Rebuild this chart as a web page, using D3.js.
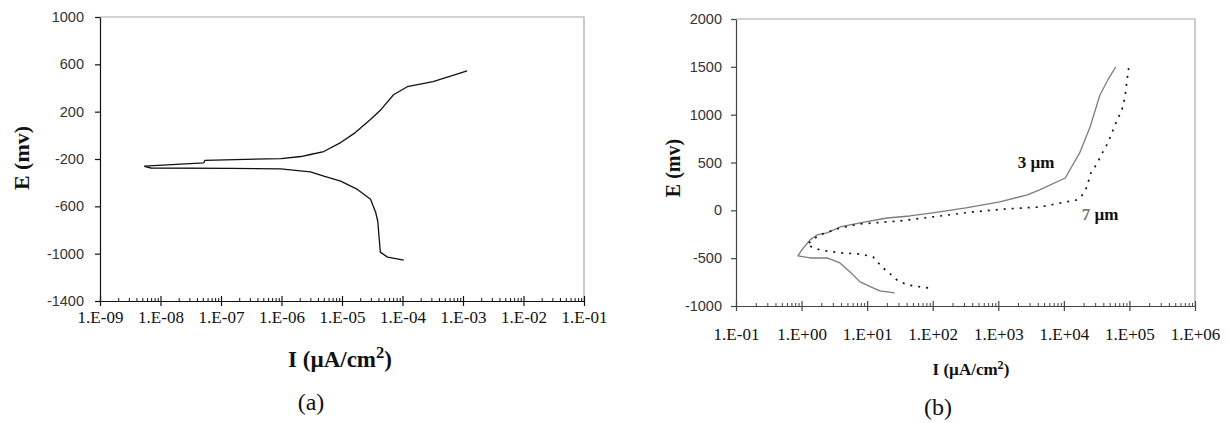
<!DOCTYPE html>
<html>
<head>
<meta charset="utf-8">
<script src="https://cdn.jsdelivr.net/npm/d3@7"></script>
<style>
  body { margin: 0; background: #fff; }
  svg { display: block; }
</style>
</head>
<body>
<svg id="fig"></svg>
<script>
// ---------------------------------------------------------------
// data (I in uA/cm2, E in mV)
// ---------------------------------------------------------------

// panel (a)
var aXTicks = [1e-9, 1e-8, 1e-7, 1e-6, 1e-5, 1e-4, 1e-3, 1e-2, 1e-1];
var aXLabels = ["1.E-09", "1.E-08", "1.E-07", "1.E-06", "1.E-05", "1.E-04", "1.E-03", "1.E-02", "1.E-01"];
var aYTicks = [-1400, -1000, -600, -200, 200, 600, 1000];

var aAnodicI = [5.4e-9, 5.2e-8, 5.4e-8, 9.8e-7, 2.1e-6, 3.0e-6, 5.0e-6, 9.5e-6, 1.66e-5, 2.95e-5, 4.4e-5, 7.1e-5, 1.2e-4, 3.2e-4, 1.17e-3];
var aAnodicE = [-260, -232, -212, -196, -179, -162, -137, -61, 23, 133, 217, 343, 411, 453, 545];

var aCathodicI = [5.4e-9, 6.95e-9, 1.45e-7, 9.7e-7, 3.0e-6, 5.0e-6, 9.5e-6, 1.8e-5, 2.96e-5, 3.6e-5, 3.9e-5, 4.3e-5, 5.65e-5, 1.05e-4];
var aCathodicE = [-263, -276, -280, -283, -308, -345, -387, -457, -541, -650, -726, -987, -1029, -1054];

// panel (b)
var bXTicks = [1e-1, 1e0, 1e1, 1e2, 1e3, 1e4, 1e5, 1e6];
var bXLabels = ["1.E-01", "1.E+00", "1.E+01", "1.E+02", "1.E+03", "1.E+04", "1.E+05", "1.E+06"];
var bYTicks = [-1000, -500, 0, 500, 1000, 1500, 2000];

// 3 um coating (solid grey)
var b3I = [26.3, 15.7, 12.3, 7.8, 5.5, 3.85, 2.45, 1.35, 0.88, 1.01, 1.35, 1.72, 2.45, 3.85, 7.8, 20, 44.7, 100, 321, 1050, 2770, 4270, 10500, 17400, 25100, 35500, 46800, 61700];
var b3E = [-863, -842, -811, -748, -644, -550, -498, -498, -477, -414, -309, -257, -236, -174, -132, -80, -59, -27, 25, 88, 161, 213, 338, 600, 871, 1206, 1363, 1498];

// 7 um coating (dotted black)
var b7I = [85, 40.6, 28.4, 20, 17.4, 12.3, 7.8, 3.85, 1.9, 1.21, 1.45, 1.9, 3.85, 7.8, 31.6, 100, 400, 1350, 4300, 15800, 17500, 20200, 22400, 25800, 29700, 35400, 40700, 46900, 54000, 62100, 76600, 85100, 91200, 97900];
var b7E = [-811, -780, -727, -633, -602, -487, -456, -445, -414, -362, -309, -257, -184, -142, -111, -69, -17, 15, 35, 109, 129, 182, 244, 391, 453, 547, 631, 704, 809, 913, 1049, 1174, 1342, 1498];

// ---------------------------------------------------------------
// drawing
// ---------------------------------------------------------------
var svg = d3.select("#fig").attr("width", 1229).attr("height", 423);
svg.append("rect").attr("width", 1229).attr("height", 423).attr("fill", "#fff");

var serif = "'Liberation Serif', 'Times New Roman', serif";
var sans = "'Liberation Sans', Arial, sans-serif";

// minor log ticks 2..9 inside each decade
function minorTicks(majors) {
  var out = [];
  for (var i = 0; i < majors.length - 1; i++)
    for (var m = 2; m <= 9; m++) out.push(majors[i] * m);
  return out;
}

function panel(p) {
  var x = d3.scaleLog().domain(p.xDomain).range([p.left, p.right]);
  var y = d3.scaleLinear().domain(p.yDomain).range([p.bottom, p.top]);
  var g = svg.append("g");

  // plot-area frame (top + right), light grey
  g.append("path")
    .attr("d", "M" + p.left + "," + p.top + "H" + p.right + "V" + p.bottom)
    .attr("fill", "none").attr("stroke", "#a8a8a8").attr("stroke-width", 1.2);

  // y axis
  var ya = g.append("g").attr("transform", "translate(" + p.left + ",0)")
    .call(d3.axisLeft(y).tickValues(p.yTicks).tickSize(5).tickSizeOuter(0)
      .tickPadding(p.yPad).tickFormat(function(d){ return d; }));
  ya.selectAll("path,line").attr("stroke", p.axisColor).attr("stroke-width", 1.2);
  ya.selectAll("text").attr("font-family", sans).attr("font-size", 14.5).attr("fill", "#333");

  // x axis: major ticks down, major + minor ticks up, labels
  var xg = g.append("g").attr("transform", "translate(0," + p.bottom + ")");
  var xa = xg.append("g").call(d3.axisBottom(x).tickValues(p.xTicks).tickSize(5)
    .tickSizeOuter(0).tickFormat(""));
  xa.selectAll("path,line").attr("stroke", p.axisColor).attr("stroke-width", 1.2);
  var xu = xg.append("g").call(d3.axisTop(x).tickValues(p.xTicks).tickSize(5)
    .tickSizeOuter(0).tickFormat(""));
  xu.selectAll("line").attr("stroke", p.axisColor).attr("stroke-width", 1.2);
  xu.select("path").remove();
  var xm = xg.append("g").call(d3.axisTop(x).tickValues(minorTicks(p.xTicks)).tickSize(3)
    .tickSizeOuter(0).tickFormat(""));
  xm.selectAll("line").attr("stroke", p.axisColor).attr("stroke-width", 1);
  xm.select("path").remove();
  var xl = xg.append("g").call(d3.axisBottom(x).tickValues(p.xTicks).tickSize(0)
    .tickPadding(p.xPad).tickFormat(function(d, i){ return p.xLabels[i]; }));
  xl.select("path").remove();
  xl.selectAll("text").attr("font-family", serif).attr("font-size", 17).attr("fill", "#111");

  // curves
  var line = d3.line().x(function(d){ return x(d[0]); }).y(function(d){ return y(d[1]); });
  p.series.forEach(function(s) {
    g.append("path").datum(d3.zip(s.I, s.E))
      .attr("d", line).attr("fill", "none")
      .attr("stroke", s.color).attr("stroke-width", s.width)
      .attr("stroke-dasharray", s.dash || null)
      .attr("stroke-linejoin", "round");
  });

  // axis titles
  var xt = g.append("text").attr("x", p.xTitle[0]).attr("y", p.xTitle[1])
    .attr("text-anchor", "middle").attr("font-family", serif)
    .attr("font-weight", "bold").attr("font-size", p.xTitleSize).attr("fill", "#111");
  xt.append("tspan").text("I (\u00b5A/cm");
  xt.append("tspan").text("2").attr("font-size", p.xTitleSize * 0.72).attr("dy", -p.xTitleSize * 0.38);
  xt.append("tspan").text(")").attr("dy", p.xTitleSize * 0.38);

  g.append("text").attr("transform", "translate(" + p.yTitle[0] + "," + p.yTitle[1] + ") rotate(-90)")
    .attr("text-anchor", "middle").attr("font-family", serif)
    .attr("font-weight", "bold").attr("font-size", p.yTitleSize).attr("fill", "#111")
    .text("E (mv)");

  // panel letter
  g.append("text").attr("x", p.letter[0]).attr("y", p.letter[1])
    .attr("text-anchor", "middle").attr("font-family", serif)
    .attr("font-size", 24).attr("fill", "#111").text(p.letterText);

  return { x: x, y: y, g: g };
}

panel({
  left: 100, right: 584, top: 17, bottom: 301,
  xDomain: [1e-9, 1e-1], yDomain: [-1400, 1000],
  xTicks: aXTicks, xLabels: aXLabels, yTicks: aYTicks,
  yPad: 11, xPad: 10, axisColor: "#111",
  series: [
    { I: aAnodicI, E: aAnodicE, color: "#111", width: 1.3 },
    { I: aCathodicI, E: aCathodicE, color: "#111", width: 1.3 }
  ],
  xTitle: [340, 367], xTitleSize: 23,
  yTitle: [29, 158], yTitleSize: 22,
  letter: [311, 410], letterText: "(a)"
});

var pb = panel({
  left: 736, right: 1195, top: 19, bottom: 306,
  xDomain: [1e-1, 1e6], yDomain: [-1000, 2000],
  xTicks: bXTicks, xLabels: bXLabels, yTicks: bYTicks,
  yPad: 9, xPad: 22, axisColor: "#444",
  series: [
    { I: b3I, E: b3E, color: "#7c7c7c", width: 1.3 },
    { I: b7I, E: b7E, color: "#111", width: 1.7, dash: "2,6" }
  ],
  xTitle: [971, 375], xTitleSize: 17,
  yTitle: [680, 168], yTitleSize: 20,
  letter: [938, 415], letterText: "(b)"
});

// curve labels in panel (b)
pb.g.append("text").attr("x", 1036).attr("y", 168).attr("text-anchor", "middle")
  .attr("font-family", serif).attr("font-weight", "bold").attr("font-size", 17)
  .attr("fill", "#111").text("3 \u00b5m");
var t7 = pb.g.append("text").attr("x", 1100).attr("y", 220).attr("text-anchor", "middle")
  .attr("font-family", serif).attr("font-weight", "bold").attr("font-size", 17).attr("fill", "#111");
t7.append("tspan").text("7 ").attr("fill", "#777");
t7.append("tspan").text("\u00b5m");
</script>
</body>
</html>
